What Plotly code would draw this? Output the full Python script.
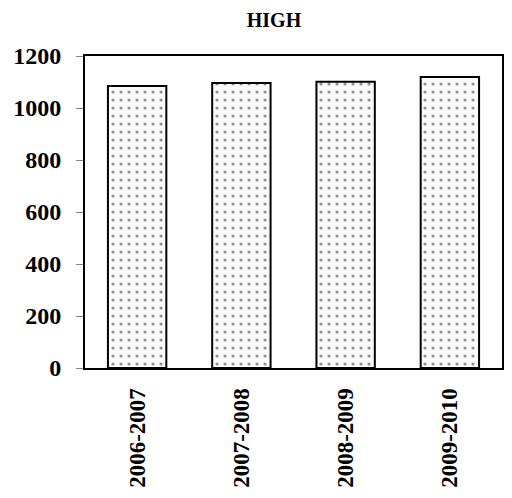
import plotly.graph_objects as go

categories = ["2006-2007", "2007-2008", "2008-2009", "2009-2010"]
values = [1085, 1096, 1101, 1119]
y_ticks = [0, 200, 400, 600, 800, 1000, 1200]

FONT = "Liberation Serif"

fig = go.Figure(go.Bar(
    x=categories,
    y=values,
    width=0.56,
    marker=dict(
        color="white",
        line=dict(color="black", width=2),
        pattern=dict(shape=".", fgcolor="#222222", bgcolor="#fafafa", size=8, solidity=0.12),
    ),
))

fig.update_layout(
    width=512, height=498,
    margin=dict(l=77, r=18, t=48, b=138),
    paper_bgcolor="white", plot_bgcolor="white",
    showlegend=False,
    title=dict(text="HIGH", x=266/512, xanchor="center", y=1-12/498, yanchor="middle",
               font=dict(family=FONT, size=20, color="black", weight="bold")),
    font=dict(family=FONT, color="black"),
)
fig.update_xaxes(
    tickangle=-90, tickfont=dict(family=FONT, size=23, color="black", weight="bold"),
    showline=True, linecolor="black", linewidth=2, mirror=True,
    ticks="", ticklabelstandoff=9, showgrid=False, automargin=False,
)
fig.update_yaxes(
    range=[0, 1200], tickvals=y_ticks,
    tickfont=dict(family=FONT, size=24, color="black", weight="bold"),
    showline=True, linecolor="black", linewidth=2, mirror=True,
    ticks="outside", ticklen=7, tickcolor="#888888", tickwidth=1,
    ticklabelstandoff=10,
    showgrid=False, zeroline=False, automargin=False,
)

fig.write_html("out.html")
